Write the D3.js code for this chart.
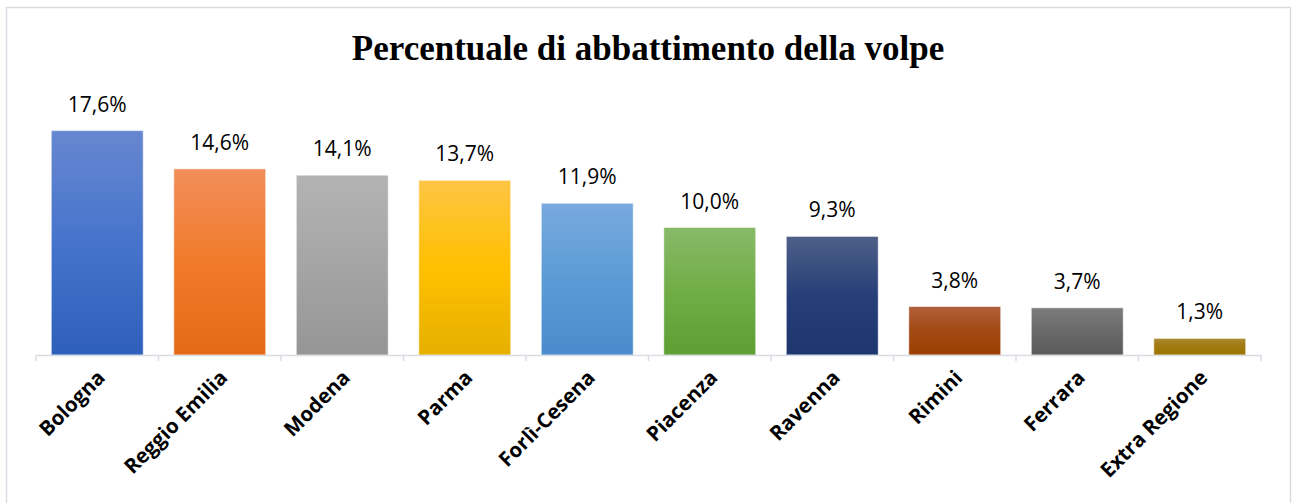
<!DOCTYPE html>
<html>
<head>
<meta charset="utf-8">
<script src="https://cdn.jsdelivr.net/npm/d3@7"></script>
<style>
  body { margin: 0; background: #fff; }
  svg { display: block; }
</style>
</head>
<body>
<div id="chart"></div>
<script>
var categories = ["Bologna", "Reggio Emilia", "Modena", "Parma", "Forlì-Cesena", "Piacenza", "Ravenna", "Rimini", "Ferrara", "Extra Regione"];
var values = [17.6, 14.6, 14.1, 13.7, 11.9, 10.0, 9.3, 3.8, 3.7, 1.3];
var labels = ["17,6%", "14,6%", "14,1%", "13,7%", "11,9%", "10,0%", "9,3%", "3,8%", "3,7%", "1,3%"];
// top, middle, bottom of each bar's gradient
var barColors = [
  ["#6787d0", "#4674cc", "#2e5fba"],
  ["#f28e5a", "#f07a2a", "#e46a18"],
  ["#b3b3b3", "#a5a5a5", "#959595"],
  ["#fdc544", "#ffc000", "#e6b000"],
  ["#78aade", "#5b9bd5", "#4a8bcd"],
  ["#88ba68", "#70ad47", "#5e9e32"],
  ["#4f6088", "#263f78", "#1d366e"],
  ["#b0603c", "#a24914", "#9c3f00"],
  ["#7c7c7c", "#696969", "#5a5a5a"],
  ["#a98932", "#a07a10", "#9c7500"]
];

var W = 1292, H = 503;
var svg = d3.select("#chart").append("svg")
  .attr("width", W)
  .attr("height", H);

// chart border
svg.append("rect")
  .attr("x", 6.5).attr("y", 7.5)
  .attr("width", 1284).attr("height", 505)
  .attr("fill", "#fff")
  .attr("stroke", "#d9dde3")
  .attr("stroke-width", 1.5);

var defs = svg.append("defs");
barColors.forEach(function(c, i){
  var g = defs.append("linearGradient")
    .attr("id", "grad" + i)
    .attr("x1", "0%").attr("y1", "0%")
    .attr("x2", "0%").attr("y2", "100%");
  g.append("stop").attr("offset", "0%").attr("stop-color", c[0]);
  g.append("stop").attr("offset", "50%").attr("stop-color", c[1]);
  g.append("stop").attr("offset", "100%").attr("stop-color", c[2]);
});

var x = d3.scaleBand()
  .domain(categories)
  .range([36, 1261])
  .paddingInner(0.25)
  .paddingOuter(0.125);

var y = d3.scaleLinear()
  .domain([0, 20])
  .range([355, 100]);

svg.append("text")
  .attr("x", 648)
  .attr("y", 60)
  .attr("text-anchor", "middle")
  .style("font-family", "'Liberation Serif', serif")
  .style("font-weight", "bold")
  .style("font-size", "35px")
  .attr("fill", "#000")
  .text("Percentuale di abbattimento della volpe");

svg.selectAll("rect.bar")
  .data(values)
  .enter().append("rect")
  .attr("class", "bar")
  .attr("x", function(d, i){ return x(categories[i]); })
  .attr("y", function(d){ return y(d); })
  .attr("width", x.bandwidth())
  .attr("height", function(d){ return y(0) - y(d); })
  .attr("fill", function(d, i){ return "url(#grad" + i + ")"; })
  .attr("stroke", "rgba(255,255,255,0.5)")
  .attr("stroke-width", 1);

svg.selectAll("text.val")
  .data(values)
  .enter().append("text")
  .attr("class", "val")
  .attr("x", function(d, i){ return x(categories[i]) + x.bandwidth() / 2; })
  .attr("y", function(d){ return y(d) - 19; })
  .attr("text-anchor", "middle")
  .style("font-family", "'Open Sans', sans-serif")
  .style("font-size", "21px")
  .attr("fill", "#000")
  .text(function(d, i){ return labels[i]; });

// axis line and boundary ticks
var axis = d3.axisBottom(x).tickSize(0).tickFormat("");
var gx = svg.append("g")
  .attr("transform", "translate(0," + y(0) + ")")
  .call(axis);
gx.select(".domain").attr("stroke", "#d9dde3").attr("stroke-width", 1.5);

var step = x.step();
var bounds = d3.range(categories.length + 1).map(function(i){ return 36 + i * step; });
gx.selectAll("line.sep")
  .data(bounds)
  .enter().append("line")
  .attr("class", "sep")
  .attr("x1", function(d){ return d; })
  .attr("x2", function(d){ return d; })
  .attr("y1", 0)
  .attr("y2", 6)
  .attr("stroke", "#d9dde3")
  .attr("stroke-width", 1.5);

gx.selectAll("text.cat")
  .data(categories)
  .enter().append("text")
  .attr("class", "cat")
  .attr("transform", function(d){
    return "translate(" + (x(d) + x.bandwidth() / 2 + 9) + ",24) rotate(-45)";
  })
  .attr("text-anchor", "end")
  .style("font-family", "'Open Sans', sans-serif")
  .style("font-weight", "bold")
  .style("font-size", "20.5px")
  .attr("fill", "#000")
  .text(function(d){ return d; });
</script>
</body>
</html>
